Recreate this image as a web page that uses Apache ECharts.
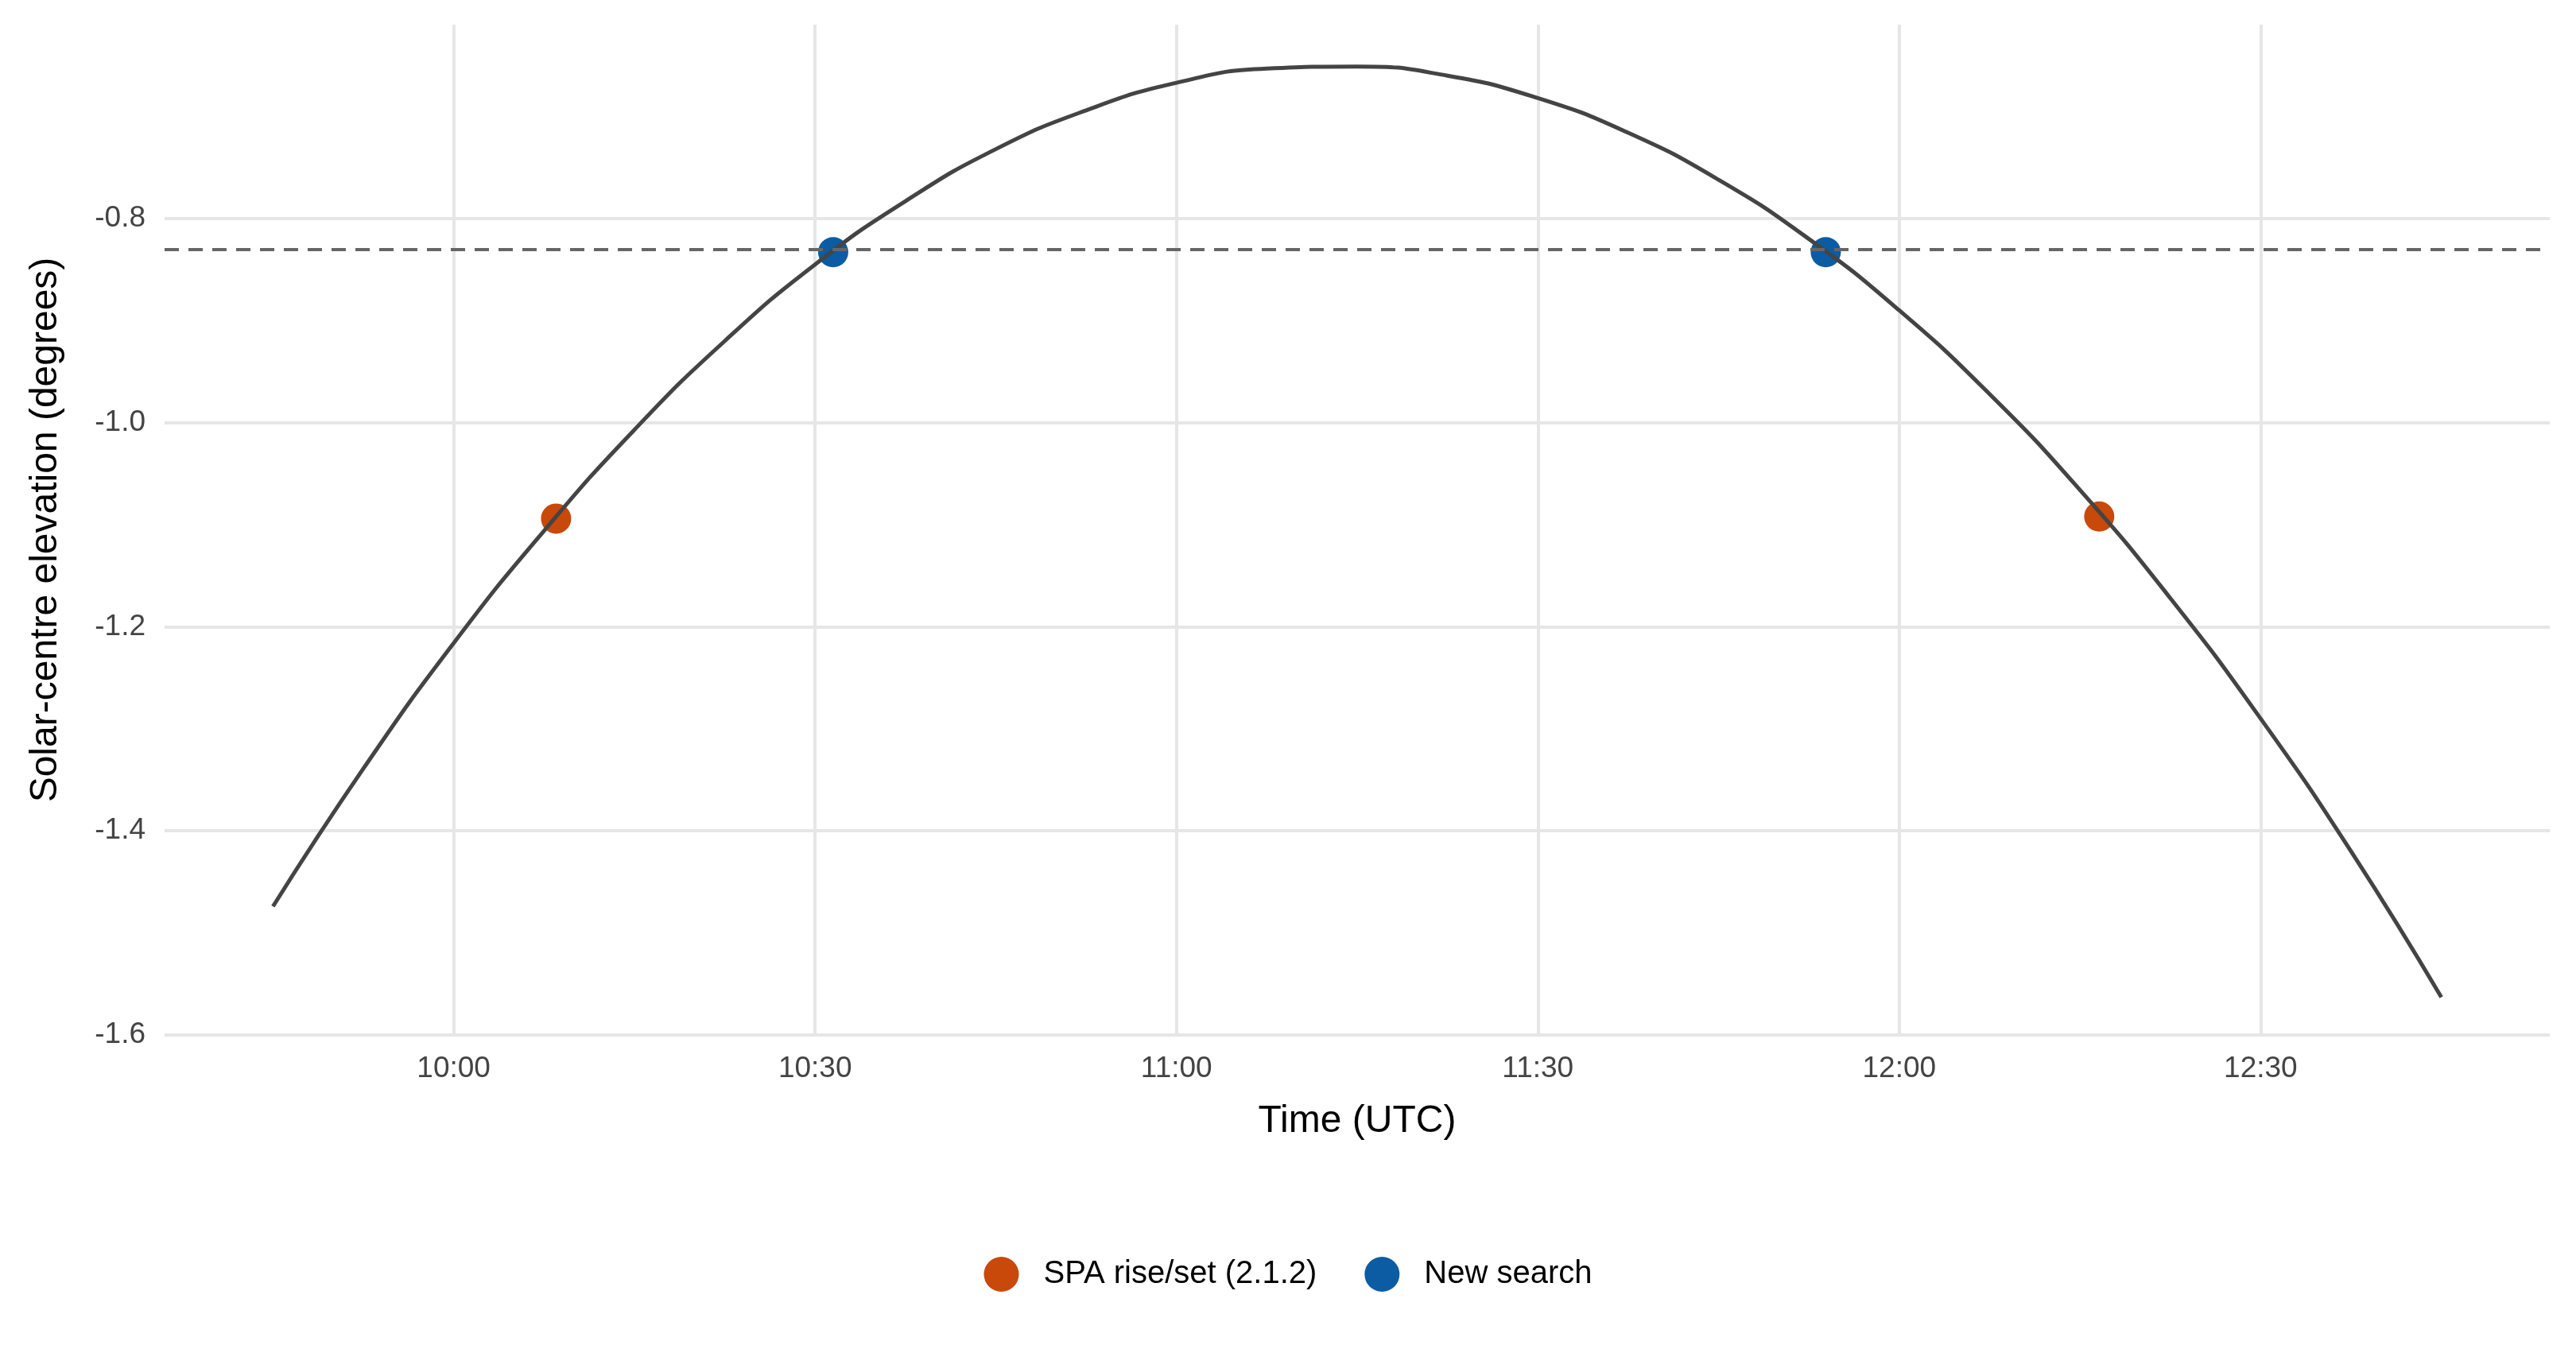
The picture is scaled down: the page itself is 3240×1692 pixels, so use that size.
<!DOCTYPE html>
<html><head><meta charset="utf-8">
<script src="https://cdn.jsdelivr.net/npm/echarts@6/dist/echarts.min.js"></script>
<style>html,body{margin:0;padding:0;background:#fff}#c{width:3240px;height:1692px}</style>
</head><body><div id="c"></div>
<script>
// minutes since midnight UTC
const curveTimes = [585,592.5,600,607.5,615,622.5,630,637.5,645,652.5,660,667.5,675,682.5,690,697.5,705,712.5,720,727.5,735,742.5,750,757.5,765];
const curveElev = [-1.474,-1.339,-1.216,-1.106,-1.007,-0.920,-0.845,-0.783,-0.732,-0.694,-0.667,-0.653,-0.651,-0.660,-0.682,-0.716,-0.762,-0.820,-0.890,-0.972,-1.066,-1.172,-1.290,-1.420,-1.563];
const spaTimes = [608.5,736.6];
const spaElev = [-1.094,-1.092];
const newTimes = [631.5,713.9];
const newElev = [-0.833,-0.833];
const thresholdElev = -0.8333;
const xTicks = [600,630,660,690,720,750];
const yTicks = [-1.6,-1.4,-1.2,-1.0,-0.8];
const fmt = v => { const h=Math.floor(v/60), m=Math.round(v%60); return h+':'+String(m).padStart(2,'0'); };
const zip = (a,b)=>a.map((x,i)=>[x,b[i]]);
const chart = echarts.init(document.getElementById('c'));
const grid = {lineStyle:{color:'#e6e6e6',width:4}};
chart.setOption({
  animation:false,
  textStyle:{fontFamily:'Liberation Sans, Arial, sans-serif'},
  grid:{left:207,right:33,top:31,bottom:390,containLabel:false},
  xAxis:{type:'value',min:576,max:774,name:'Time (UTC)',nameLocation:'middle',nameGap:85,
    nameTextStyle:{fontSize:48,color:'#000'},
    axisLine:{show:false},axisTick:{show:false,customValues:xTicks},
    axisLabel:{customValues:xTicks,formatter:fmt,fontSize:37,color:'#444',margin:24},
    splitLine:{show:true,...grid}},
  yAxis:{type:'value',min:-1.6,max:-0.61,name:'Solar-centre elevation (degrees)',
    nameLocation:'middle',nameGap:125,nameTextStyle:{fontSize:48,color:'#000'},
    axisLine:{show:false},axisTick:{show:false,customValues:yTicks},
    axisLabel:{customValues:yTicks,formatter:v=>v.toFixed(1),fontSize:37,color:'#444',margin:24},
    splitLine:grid},
  legend:{bottom:62,left:'center',icon:'circle',itemWidth:44,itemHeight:44,itemGap:60,
    textStyle:{fontSize:40,color:'#000',padding:[0,0,0,26]},data:['SPA rise/set (2.1.2)','New search']},
  series:[
    {type:'line',data:zip(curveTimes,curveElev),smooth:true,symbol:'none',
     lineStyle:{color:'#444',width:5},
     markLine:{symbol:'none',silent:true,label:{show:false},
       lineStyle:{color:'#666',type:[18,12],width:4},data:[{yAxis:thresholdElev}]}},
    {type:'scatter',name:'SPA rise/set (2.1.2)',data:zip(spaTimes,spaElev),symbolSize:38,
     itemStyle:{color:'#C8490A',opacity:1}},
    {type:'scatter',name:'New search',data:zip(newTimes,newElev),symbolSize:38,
     itemStyle:{color:'#0B5CA3',opacity:1}}
  ]
});
</script></body></html>
